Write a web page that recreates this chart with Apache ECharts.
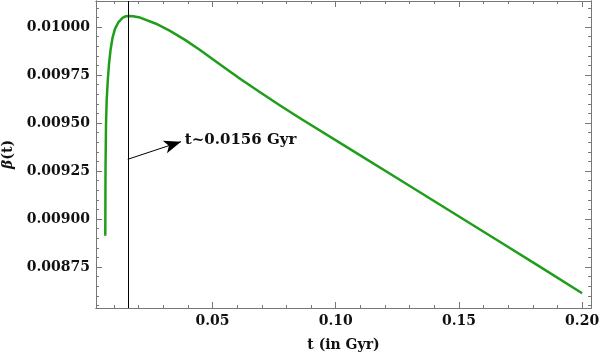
<!DOCTYPE html>
<html>
<head>
<meta charset="utf-8">
<script src="https://cdn.jsdelivr.net/npm/echarts@6/dist/echarts.min.js"></script>
<style>
  html, body { margin: 0; padding: 0; background: #fff; }
  #main { width: 600px; height: 355px; }
</style>
</head>
<body>
<div id="main"></div>
<script>
// curve: t (Gyr), beta(t)
var tValues = [0.00647, 0.00656, 0.00676, 0.00704, 0.00749, 0.00798, 0.00859, 0.0094, 0.01041,
  0.01184, 0.01346, 0.01488, 0.0161, 0.01773, 0.02057, 0.02706, 0.03274, 0.03883, 0.04492,
  0.05305, 0.06117, 0.06929, 0.07741, 0.08553, 0.10583, 0.12613, 0.14643, 0.16673, 0.18297, 0.2];
var betaValues = [0.008913, 0.009255, 0.00949, 0.00962, 0.009724, 0.009807, 0.00988, 0.009943, 0.00999,
  0.010026, 0.010047, 0.010056, 0.010057, 0.010056, 0.010049, 0.010017, 0.00998, 0.009933, 0.00988,
  0.009805, 0.009731, 0.00966, 0.009591, 0.009525, 0.009364, 0.009203, 0.009042, 0.00888, 0.008751, 0.008613];

var xMajor = [0.05, 0.10, 0.15, 0.20];
var xMinor = [0.01, 0.02, 0.03, 0.04, 0.06, 0.07, 0.08, 0.09, 0.11, 0.12, 0.13, 0.14, 0.16, 0.17, 0.18, 0.19];
var yMajor = [0.00875, 0.009, 0.00925, 0.0095, 0.00975, 0.01];
var yMinor = [0.00855, 0.0086, 0.00865, 0.0087, 0.0088, 0.00885, 0.0089, 0.00895,
  0.00905, 0.0091, 0.00915, 0.0092, 0.0093, 0.00935, 0.0094, 0.00945,
  0.00955, 0.0096, 0.00965, 0.0097, 0.0098, 0.00985, 0.0099, 0.00995, 0.01005, 0.0101];

var peakT = 0.0156;
var arrowFrom = [0.0156, 0.009311];
var arrowTo = [0.03721, 0.009403];

var xMin = 0.0027, xMax = 0.2036;
var yMin = 0.0085365, yMax = 0.0101354;

var font = 'DejaVu Serif';
var frameColor = '#777';

function xAx(pos, vals, len, withLabels) {
  return {
    type: 'value', position: pos, min: xMin, max: xMax,
    axisLine: { show: true, lineStyle: { color: frameColor, width: 1 } },
    splitLine: { show: false },
    axisTick: { show: true, inside: true, length: len, customValues: vals, lineStyle: { color: frameColor } },
    axisLabel: withLabels ? {
      show: true, customValues: xMajor, margin: 6, color: '#111',
      fontFamily: font, fontSize: 14, fontWeight: 'bold',
      formatter: function (v) { return v.toFixed(2); }
    } : { show: false }
  };
}
function yAx(pos, vals, len, withLabels) {
  return {
    type: 'value', position: pos, min: yMin, max: yMax,
    axisLine: { show: true, lineStyle: { color: frameColor, width: 1 } },
    splitLine: { show: false },
    axisTick: { show: true, inside: true, length: len, customValues: vals, lineStyle: { color: frameColor } },
    axisLabel: withLabels ? {
      show: true, customValues: yMajor, margin: 6, color: '#111',
      fontFamily: font, fontSize: 14, fontWeight: 'bold',
      formatter: function (v) { return v.toFixed(5); }
    } : { show: false }
  };
}

var x0 = xAx('bottom', xMajor, 6, true);
x0.name = 't (in Gyr)';
x0.nameLocation = 'middle';
x0.nameGap = 30;
x0.nameTextStyle = { fontFamily: font, fontSize: 14, fontWeight: 'bold', color: '#111' };

var y0 = yAx('left', yMajor, 6, true);
y0.name = '{b|β}(t)';
y0.nameLocation = 'middle';
y0.nameGap = 78;
y0.nameTextStyle = {
  fontFamily: font, fontSize: 14, fontWeight: 'bold', color: '#111',
  rich: { b: { fontFamily: font, fontSize: 14, fontStyle: 'italic', fontWeight: 'bold', color: '#111' } }
};

var myChart = echarts.init(document.getElementById('main'));
myChart.setOption({
  animation: false,
  grid: { left: 96, right: 9, top: 1, bottom: 47, containLabel: false, outerBoundsMode: 'none' },
  xAxis: [x0, xAx('bottom', xMinor, 3, false), xAx('top', xMajor, 6, false), xAx('top', xMinor, 3, false)],
  yAxis: [y0, yAx('left', yMinor, 3, false), yAx('right', yMajor, 6, false), yAx('right', yMinor, 3, false)],
  series: [{
    type: 'line',
    xAxisIndex: 0,
    yAxisIndex: 0,
    data: tValues.map(function (t, i) { return [t, betaValues[i]]; }),
    smooth: false,
    showSymbol: false,
    lineStyle: { color: '#1f9e1a', width: 2.5, join: 'round' },
    markLine: {
      silent: true,
      animation: false,
      data: [
        [{ xAxis: peakT, yAxis: yMin, symbol: 'none' }, { xAxis: peakT, yAxis: yMax, symbol: 'none' }],
        [{ coord: arrowFrom, symbol: 'none' },
         { coord: arrowTo, symbol: 'arrow', symbolSize: [10, 17],
           label: { show: true, position: 'end', distance: 4, formatter: 't~0.0156 Gyr',
             fontFamily: font, fontSize: 15, fontWeight: 'bold', color: '#111' } }]
      ],
      lineStyle: { color: '#000', width: 1, type: 'solid' },
      label: { show: false }
    }
  }]
});
</script>
</body>
</html>
